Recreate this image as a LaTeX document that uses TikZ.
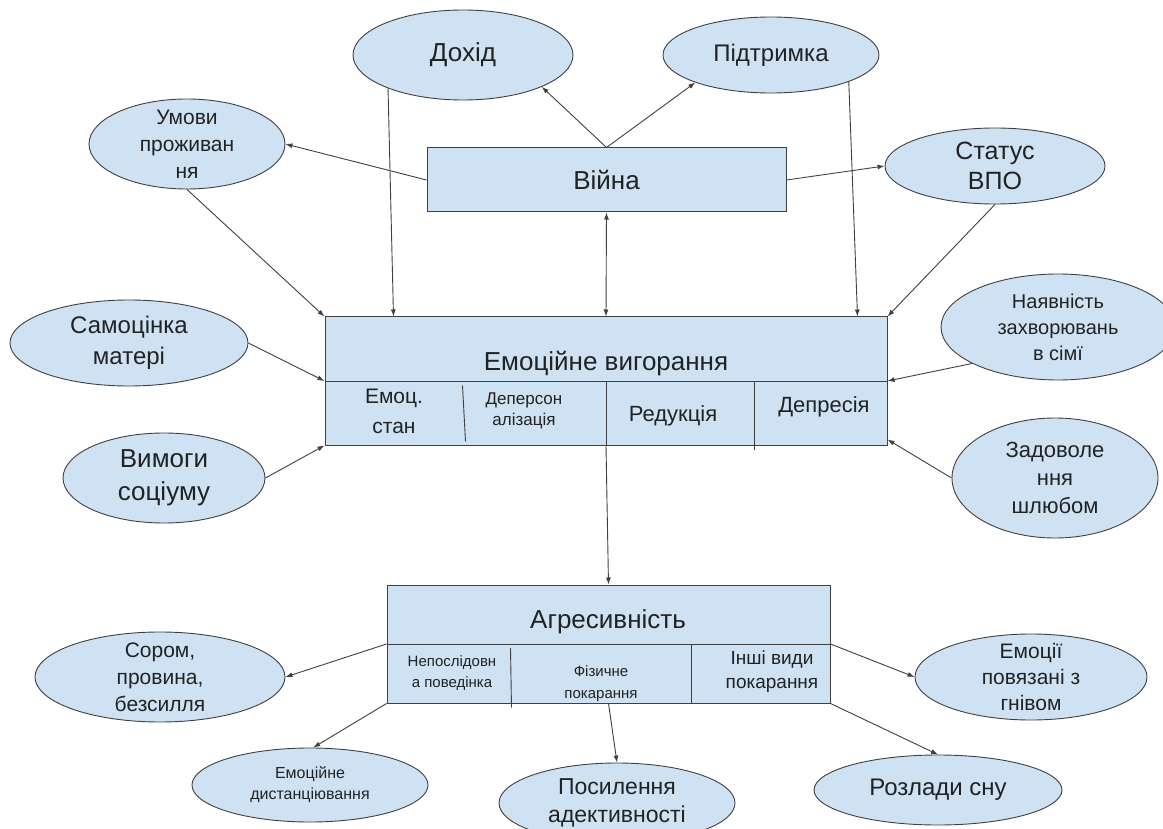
\documentclass[tikz,border=0pt]{standalone}
\usepackage{fontspec}
\setmainfont{Liberation Sans}
\usetikzlibrary{arrows.meta,calc,shapes.geometric}
\definecolor{fillc}{HTML}{CFE2F3}
\definecolor{linec}{HTML}{404040}
\definecolor{textc}{HTML}{222222}
\newcommand\fs[2]{\fontsize{#1}{#2}\selectfont}
\tikzset{
  el/.style={ellipse, draw=linec, fill=fillc, line width=0.9pt, inner sep=0pt},
  box/.style={rectangle, draw=linec, fill=fillc, line width=1pt, inner sep=0pt, text=textc},
  divl/.style={draw=linec, line width=0.9pt},
  conn/.style={draw=linec, line width=0.9pt, -{Latex[length=7pt,width=5pt]}},
  lbl/.style={align=center, text=textc, inner sep=0pt},
}
\newcommand\myell[8]{\node[el, minimum width={2*#4}, minimum height={2*#5},
  label={[lbl, font=\fs{#6}{#7}]center:{#8}}] (#1) at (#2,#3) {};}
\begin{document}
\begin{tikzpicture}[x=1pt,y=-1pt]
\clip (0,0) rectangle (1163,829);
\fill[white] (0,0) rectangle (1163,829);

% ellipses
\myell{dohid}{463}{55}{110}{45}{26}{30}{Дохід}
\myell{pidtr}{771}{55}{108}{38}{24}{28}{Підтримка}
\myell{umovy}{187}{144}{98}{45}{21}{27}{Умови\\проживан\\ня}
\myell{status}{995}{166}{110}{38}{25}{30}{Статус\\ВПО}
\myell{nayav}{1058}{327}{117}{53}{20}{26}{Наявність\\захворювань\\в сімї}
\myell{samo}{129}{343}{119}{43}{24}{31}{Самоцінка\\матері}
\myell{vymohy}{164}{478}{101}{45}{26}{33}{Вимоги\\соціуму}
\myell{zadov}{1055}{478}{103}{60}{22}{28}{Задоволе\\ння\\шлюбом}
\myell{sorom}{160}{677}{125}{45}{21}{27}{Сором,\\провина,\\безсилля}
\myell{emoc}{1031}{677}{116}{43}{21}{26}{Емоції\\повязані з\\гнівом}
\myell{dyst}{310}{785}{118}{37}{16}{21}{Емоційне\\дистанціювання}
\myell{posyl}{617}{803}{118}{40}{23}{28}{Посилення\\адективності}
\myell{rozl}{938}{790}{124}{35}{24}{28}{Розлади сну}

% boxes
\node[box, minimum width=359pt, minimum height=64pt, font=\fs{26}{30}] (war) at (606.5,180) {Війна};
\node[box, minimum width=562pt, minimum height=128pt] (emo) at (606,381) {};
\node[box, minimum width=443pt, minimum height=118pt] (aggr) at (608.5,644) {};

\draw[divl] (emo.west) -- (emo.east);
\draw[divl] ($(emo.north west)+(138,69)$) -- ($(emo.north west)+(141,125)$);
\draw[divl] ($(emo.west)+(282,0)$) -- ($(emo.south west)+(282,0)$);
\draw[divl] ($(emo.west)+(430,0)$) -- ($(emo.south west)+(430,4)$);

\draw[divl] (aggr.west) -- (aggr.east);
\draw[divl] ($(aggr.west)+(124,4)$) -- ($(aggr.south west)+(125,4)$);
\draw[divl] ($(aggr.west)+(305,0)$) -- ($(aggr.south west)+(305,0)$);

% box texts
\node[lbl, font=\fs{26}{30}] (emoT) at (606,364) {Емоційне вигорання};
\node[lbl, font=\fs{21}{30}] (emo1) at (394,411) {Емоц.\\стан};
\node[lbl, font=\fs{17}{21}] (emo2) at (524,411) {Деперсон\\алізація};
\node[lbl, font=\fs{22}{26}] (emo3) at (673,416) {Редукція};
\node[lbl, font=\fs{22}{26}] (emo4) at (824,407) {Депресія};

\node[lbl, font=\fs{26}{30}] (aggrT) at (608,622) {Агресивність};
\node[lbl, font=\fs{15}{21}] (ag1) at (452,673) {Непослідовн\\а поведінка};
\node[lbl, font=\fs{15}{22}] (ag2) at (601,684) {Фізичне\\покарання};
\node[lbl, font=\fs{19}{24}] (ag3) at (772,672) {Інші види\\покарання};

% connectors
\draw[conn] (war.north) -- (dohid.-22);
\draw[conn] (war.north) -- (pidtr.200);
\draw[conn] (war.west) -- (umovy.east);
\draw[conn] (war.east) -- (status.west);
\draw[conn] (umovy.south) -- (emo.north west);
\draw[conn] (dohid.204) -- ($(emo.north west)+(69,0)$);
\draw[conn] (pidtr.-19) -- ($(emo.north east)+(-30,0)$);
\draw[conn] (status.south) -- (emo.north east);
\draw[conn, {Latex[length=7pt,width=5pt]}-{Latex[length=7pt,width=5pt]}] (emo.north) -- (war.south);
\draw[conn] (samo.east) -- (emo.west);
\draw[conn] (vymohy.east) -- (emo.south west);
\draw[conn] (nayav.203) -- (emo.east);
\draw[conn] (zadov.west) -- ($(emo.south east)+(0,-6)$);
\draw[conn] (emo.south) -- (aggr.north);
\draw[conn] (aggr.west) -- (sorom.east);
\draw[conn] (aggr.south west) -- (dyst.85);
\draw[conn] (aggr.south) -- (posyl.north);
\draw[conn] (aggr.east) -- (emoc.west);
\draw[conn] (aggr.south east) -- (rozl.north);
\end{tikzpicture}
\end{document}
